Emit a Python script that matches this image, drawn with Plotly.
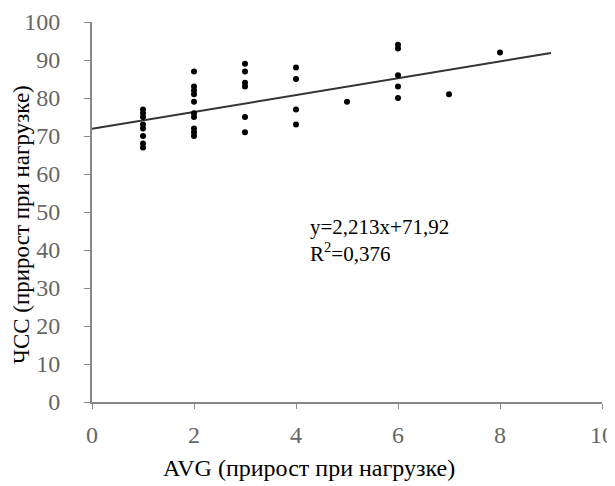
import plotly.graph_objects as go

# Data
avg_x = [1]*8 + [2]*10 + [3]*6 + [4]*4 + [5] + [6]*5 + [7] + [8]
hr_y = [77, 76, 75, 73, 72, 70, 68, 67,
        87, 83, 82, 81, 79, 76, 75, 72, 71, 70,
        89, 87, 84, 83, 75, 71,
        88, 85, 77, 73,
        79,
        94, 93, 86, 83, 80,
        81,
        92]

slope = 2.213
intercept = 71.92
trend_x = [0, 9]
trend_y = [intercept + slope * v for v in trend_x]

x_ticks = [0, 2, 4, 6, 8, 10]
y_ticks = [0, 10, 20, 30, 40, 50, 60, 70, 80, 90, 100]

FONT = "Liberation Serif"

fig = go.Figure()
fig.add_trace(go.Scatter(x=trend_x, y=trend_y, mode="lines",
                         line=dict(color="#333333", width=2),
                         showlegend=False, hoverinfo="skip"))
fig.add_trace(go.Scatter(x=avg_x, y=hr_y, mode="markers",
                         marker=dict(color="black", size=6),
                         showlegend=False))

# page body has an 8px margin, so the figure is sized/offset to compensate
fig.update_layout(
    width=607, height=478,
    margin=dict(l=84, r=13, t=14, b=84, autoexpand=False),
    paper_bgcolor="white", plot_bgcolor="white",
    font=dict(family=FONT, size=22, color="black"),
    xaxis=dict(range=[0, 10], tickvals=x_ticks, ticks="outside", ticklen=5,
               tickcolor="#888888", showline=True, linecolor="#888888", linewidth=2,
               showgrid=False, zeroline=False, ticklabelstandoff=5, automargin=False,
               tickfont=dict(family=FONT, size=24, color="#666666")),
    yaxis=dict(range=[0, 100], tickvals=y_ticks, ticks="outside", ticklen=6,
               tickcolor="#888888", showline=True, linecolor="#888888", linewidth=2,
               showgrid=False, zeroline=False, ticklabelstandoff=19, automargin=False,
               tickfont=dict(family=FONT, size=24, color="#666666")),
    annotations=[
        dict(text="AVG (прирост при нагрузке)", xref="paper", yref="paper",
             x=0.4255, y=-0.174, xanchor="center", yanchor="middle",
             showarrow=False, font=dict(family=FONT, size=24, color="black")),
        dict(text="ЧСС (прирост при нагрузке)", xref="paper", yref="paper",
             x=-0.137, y=0.466, xanchor="center", yanchor="middle", textangle=-90,
             showarrow=False, font=dict(family=FONT, size=23, color="black")),
        dict(text="y=2,213x+71,92<br>R<sup>2</sup>=0,376", xref="x", yref="y",
             x=4.235, y=42.4, xanchor="left", yanchor="middle", align="left",
             showarrow=False, font=dict(family=FONT, size=21, color="black")),
    ],
)

fig.write_html("out.html")
